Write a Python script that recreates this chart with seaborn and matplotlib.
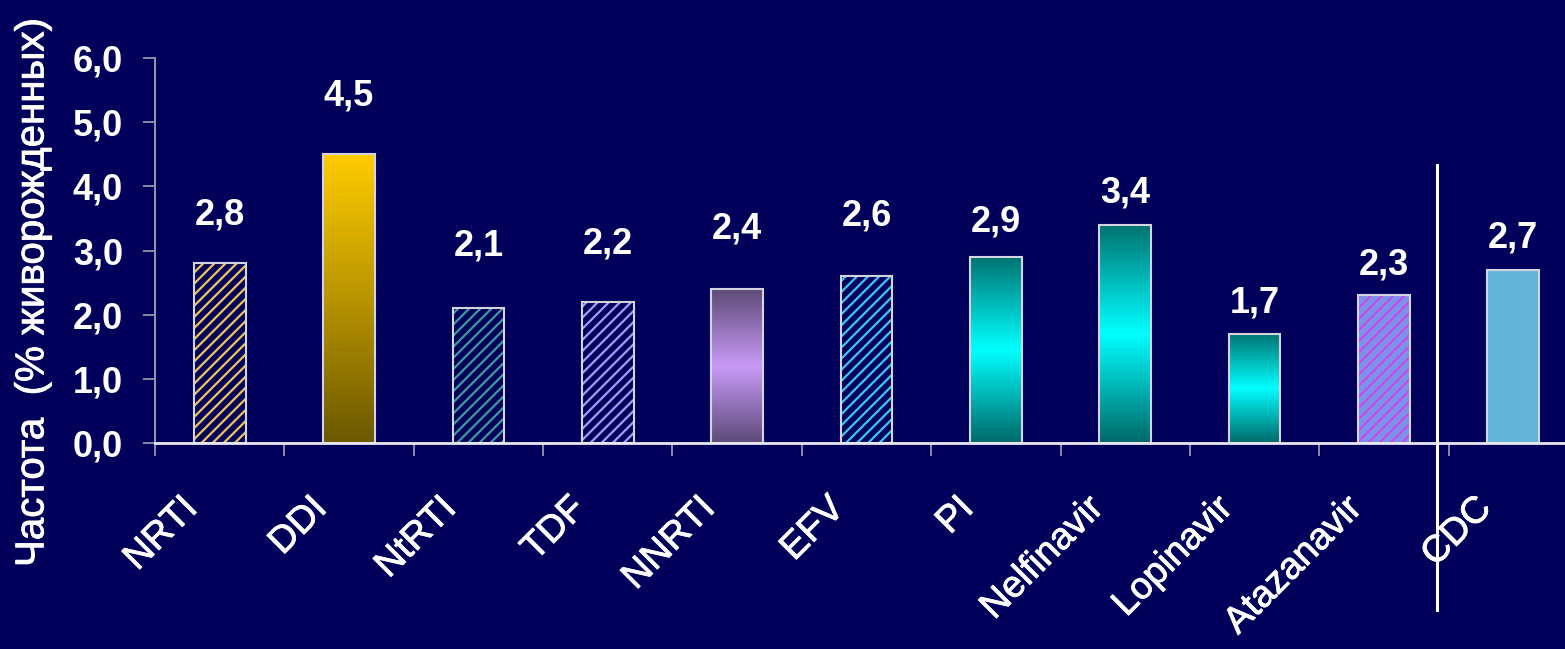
import numpy as np
import matplotlib
matplotlib.use("Agg")
import matplotlib.pyplot as plt
import matplotlib.patheffects as pe
from matplotlib.colors import LinearSegmentedColormap
from matplotlib.transforms import ScaledTranslation
import seaborn as sns

# --- data -------------------------------------------------------------
categories = ["NRTI", "DDI", "NtRTI", "TDF", "NNRTI", "EFV", "PI",
              "Nelfinavir", "Lopinavir", "Atazanavir", "CDC"]
values = [2.8, 4.5, 2.1, 2.2, 2.4, 2.6, 2.9, 3.4, 1.7, 2.3, 2.7]
y_ticks = [0, 1, 2, 3, 4, 5, 6]
y_label = "Частота  (% живорожденных)"

# --- styling ----------------------------------------------------------
BG = "#00005A"
# fill style of each bar: hatched (face, line colour), gradient, or solid
bar_styles = [
    ("hatch", BG, "#F2C45A"),
    ("grad", "gold"),
    ("hatch", BG, "#3A9C9C"),
    ("hatch", BG, "#A29CFF"),
    ("grad", "violet"),
    ("hatch", BG, "#38C8F8"),
    ("grad", "teal"),
    ("grad", "teal"),
    ("grad", "teal"),
    ("hatch", "#7C94E8", "#C848F0"),
    ("solid", "#64B4DA"),
]
gradients = {
    "gold": LinearSegmentedColormap.from_list("gold", ["#6B5800", "#B89400", "#FFCC00"]),
    "violet": LinearSegmentedColormap.from_list(
        "violet", [(0, "#5E4A7A"), (0.5, "#C89AF8"), (1, "#5E4A78")]),
    "teal": LinearSegmentedColormap.from_list(
        "teal", [(0, "#006868"), (0.5, "#00FFFF"), (1, "#007270")]),
}
# vertical distance (points) from bar top to the centre of its value label
label_offsets = [35, 42, 45, 42, 43, 43, 25, 23, 22, 22, 23]

plt.rcParams["font.family"] = ["Liberation Sans", "DejaVu Sans"]
plt.rcParams["hatch.linewidth"] = 1.6

W, H = 1565, 649
fig = plt.figure(figsize=(W / 100, H / 100), dpi=100, facecolor=BG)
ax = fig.add_axes([155 / W, 206 / H, 1410 / W, 385 / H], facecolor=BG)

face_colors = [s[1] if s[0] != "grad" else BG for s in bar_styles]
sns.barplot(x=categories, y=values, hue=categories, palette=face_colors,
            legend=False, width=0.4, saturation=1, linewidth=0, ax=ax)

bars = list(ax.patches)
col = np.linspace(0, 1, 256).reshape(-1, 1)
for patch, style in zip(bars, bar_styles):
    if style[0] == "hatch":
        patch.set_hatch("///")
        patch.set_edgecolor(style[2])
        patch.set_linewidth(0)
    elif style[0] == "grad":
        x0 = patch.get_x()
        x1 = x0 + patch.get_width()
        h = patch.get_height()
        im = ax.imshow(col, cmap=gradients[style[1]], origin="lower",
                       extent=(x0, x1, 0, h), aspect="auto",
                       interpolation="bilinear", zorder=1.2)
        im.set_clip_path(patch)

# bar outlines
sns.barplot(x=categories, y=values, fill=False, color="#D4D4E0",
            width=0.4, linewidth=1.5, ax=ax)
for p in ax.patches[len(bars):]:
    p.set_zorder(2)

# value labels
for i, (v, off) in enumerate(zip(values, label_offsets)):
    ax.annotate(f"{v:.1f}".replace(".", ","), (i, v), xytext=(0, off),
                textcoords="offset points", ha="center", va="center",
                fontsize=26, fontweight="bold", color="white")

# axes
ax.set_xlim(-0.5, 10.4)
ax.set_ylim(0, 6)
ax.set_yticks(y_ticks)
ax.set_yticklabels([f"{t:.1f}".replace(".", ",") for t in y_ticks],
                   fontsize=26, fontweight="bold", color="white")
ax.tick_params(axis="y", length=9, width=1.2, color="#A0A0B4", pad=14)

# slightly heavier stroke for the regular-weight labels
thicken = [pe.withStroke(linewidth=0.6, foreground="white")]

ax.set_xticks(range(len(categories)))
ax.set_xticklabels(categories, fontsize=27, color="white",
                   rotation=45, ha="right", va="top")
ax.set_xticks(np.arange(-0.5, len(categories) - 0.5, 1), minor=True)
ax.tick_params(axis="x", which="major", length=0, pad=34)
ax.tick_params(axis="x", which="minor", length=9.5, width=1.2, color="#A0A0B4")
shift = ScaledTranslation(-15 / 100, 0, fig.dpi_scale_trans)
for lbl in ax.get_xticklabels():
    lbl.set_transform(lbl.get_transform() + shift)
    lbl.set_path_effects(thicken)
ax.set_xlabel("")

for side in ("top", "right"):
    ax.spines[side].set_visible(False)
ax.spines["left"].set_color("#9090A8")
ax.spines["left"].set_linewidth(1.5)
ax.spines["bottom"].set_color("#E8E8F0")
ax.spines["bottom"].set_linewidth(2)

ax.set_ylabel(y_label, fontsize=29, color="white", path_effects=thicken)
ax.yaxis.set_label_coords(-0.0735, 0.39)

# separator between the drug groups and the CDC reference
ax.axvline(9.41, ymin=-0.434, ymax=0.722, color="white", lw=2.2, clip_on=False)

fig.savefig("out.png", dpi=100, facecolor=BG)
